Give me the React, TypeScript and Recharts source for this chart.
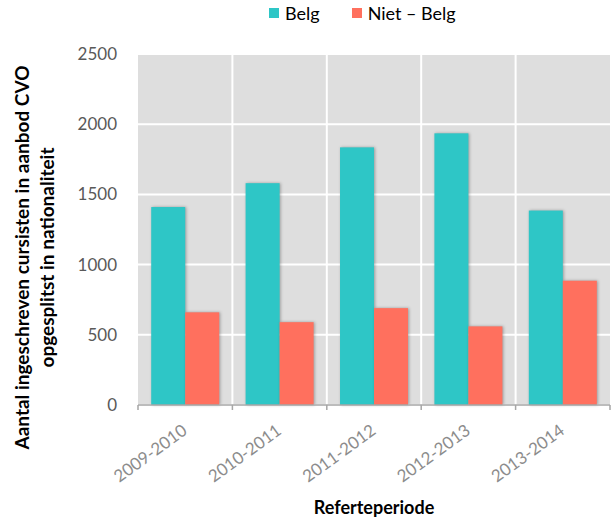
import React from 'react';
import { BarChart, Bar, XAxis, YAxis, CartesianGrid, Legend, ReferenceLine } from 'recharts';

const periods = ['2009-2010', '2010-2011', '2011-2012', '2012-2013', '2013-2014'];
const belg = [1410, 1580, 1835, 1935, 1385];
const nietBelg = [660, 590, 690, 560, 885];
const yTicks = [0, 500, 1000, 1500, 2000, 2500];
const seriesNames = ['Belg', 'Niet – Belg'];
const colors = ['#2EC6C6', '#FF705E'];
const yTitle = ['Aantal ingeschreven cursisten in aanbod  CVO', 'opgesplitst in nationaliteit'];
const xTitle = 'Referteperiode';

const data = periods.map((p, i) => ({ period: p, belg: belg[i], niet: nietBelg[i] }));

const FONT = 'Lato, "Open Sans", sans-serif';

const XTick = (props: any) => {
  const { x, y, payload, index, visibleTicksCount } = props;
  const off = payload && payload.offset ? payload.offset : 0;
  return (
    <g>
      <line x1={x - off} x2={x - off} y1={y} y2={y + 5} stroke="#A6A6A6" strokeWidth={1.5} />
      {index === visibleTicksCount - 1 && (
        <line x1={x + off} x2={x + off} y1={y} y2={y + 5} stroke="#A6A6A6" strokeWidth={1.5} />
      )}
      <text
        transform={`translate(${x + 3},${y + 28}) rotate(-36)`}
        textAnchor="end"
        fill="#8C8C8C"
        fontSize={17}
        fontFamily={FONT}
      >
        {payload.value}
      </text>
    </g>
  );
};

const ShadowBar = (props: any) => {
  const { x, y, width, height, fill } = props;
  if (!height || height <= 0) return null;
  return (
    <rect
      x={x}
      y={y}
      width={width}
      height={height}
      fill={fill}
      style={{ filter: 'drop-shadow(1.5px 0px 1.5px rgba(0,0,0,0.3))' }}
    />
  );
};

const LegendContent = () => (
  <div style={{ display: 'flex', alignItems: 'center', paddingLeft: 269, fontFamily: FONT, fontSize: 18, color: '#000' }}>
    {seriesNames.map((n, i) => (
      <div key={n} style={{ display: 'flex', alignItems: 'center', marginRight: 32 }}>
        <span style={{ display: 'inline-block', width: 10, height: 10, background: colors[i], marginRight: 6 }} />
        <span>{n}</span>
      </div>
    ))}
  </div>
);

const YTitle = (props: any) => {
  const vb = props.viewBox || { x: 0, y: 54, width: 138, height: 351 };
  const cy = vb.y + vb.height / 2 + 28;
  return (
    <g fontFamily={FONT} fontWeight="bold" fontSize={19} fill="#000">
      <text transform={`translate(29,${cy}) rotate(-90)`} textAnchor="middle">{yTitle[0]}</text>
      <text transform={`translate(54,${cy}) rotate(-90)`} textAnchor="middle">{yTitle[1]}</text>
    </g>
  );
};

const XTitle = (props: any) => {
  const vb = props.viewBox || { x: 138, y: 405, width: 472, height: 117 };
  return (
    <text x={vb.x + vb.width / 2} y={514} textAnchor="middle" fontFamily={FONT} fontWeight="bold" fontSize={18} fill="#000">
      {xTitle}
    </text>
  );
};

export default function App() {
  return (
    <div style={{ position: 'absolute', left: 0, top: 0, width: 613, height: 522, background: '#fff' }}>
      <BarChart
        width={613}
        height={522}
        data={data}
        margin={{ top: 54, right: 3, bottom: 0, left: 0 }}
        barCategoryGap="14%"
        barGap={0}
      >
        <CartesianGrid fill="#DEDEDE" stroke="#FFFFFF" strokeWidth={2} vertical={false} />
        {periods.slice(1).map((p) => (
          <ReferenceLine key={p} x={p} position="start" stroke="#FFFFFF" strokeWidth={2} />
        ))}
        <XAxis
          dataKey="period"
          height={117}
          axisLine={{ stroke: '#A6A6A6', strokeWidth: 1.5 }}
          tickLine={false}
          tickSize={0}
          tickMargin={0}
          tick={<XTick />}
          interval={0}
          label={{ content: <XTitle /> }}
        />
        <YAxis
          width={138}
          domain={[0, 2500]}
          ticks={yTicks}
          axisLine={false}
          tickLine={false}
          tickSize={0}
          tickMargin={21}
          tick={{ fill: '#595959', fontSize: 17, fontFamily: FONT }}
          label={{ content: <YTitle /> }}
        />
        <Legend
          verticalAlign="middle"
          align="center"
          layout="horizontal"
          wrapperStyle={{ top: 2, left: 0, width: 613 }}
          content={<LegendContent />}
        />
        <Bar dataKey="belg" name={seriesNames[0]} fill={colors[0]} shape={<ShadowBar />} isAnimationActive={false} />
        <Bar dataKey="niet" name={seriesNames[1]} fill={colors[1]} shape={<ShadowBar />} isAnimationActive={false} />
      </BarChart>
    </div>
  );
}
